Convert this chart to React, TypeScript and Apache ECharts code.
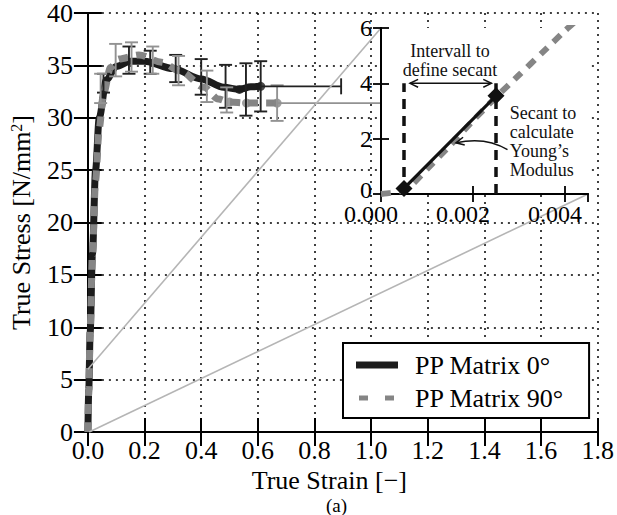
import React, { useEffect, useRef } from "react";
import * as echarts from "echarts";

const FONT = "Liberation Serif, serif";

// ---- main plot data ----
const strain0 = [0, 0.003, 0.008, 0.016, 0.027, 0.04, 0.065, 0.1, 0.15, 0.2, 0.3, 0.4, 0.48, 0.535, 0.575, 0.61];
const stress0 = [0, 4, 9.5, 17, 25, 30, 33.6, 34.9, 35.4, 35.4, 34.7, 33.7, 32.9, 32.7, 32.95, 33.0];
const strain90 = [0, 0.003, 0.008, 0.016, 0.027, 0.04, 0.055, 0.08, 0.11, 0.18, 0.26, 0.33, 0.41, 0.46, 0.5, 0.56, 0.668];
const stress90 = [0, 4, 10, 17, 24, 29, 32.3, 34.8, 35.6, 36.0, 35.3, 34.4, 32.9, 31.8, 31.5, 31.4, 31.4];
const markerIdx0 = [13, 15];
const markerIdx90 = [14, 15, 16];

// error bars (vertical)
const err0Strain = [0.055, 0.145, 0.22, 0.31, 0.4, 0.486, 0.558, 0.61];
const err0Mean = [33.3, 35.5, 35.3, 34.7, 33.9, 33.0, 32.7, 33.0];
const err0Dev = [0.9, 1.3, 1.1, 1.3, 1.7, 2.05, 2.5, 2.4];
const err90Strain = [0.045, 0.098, 0.154, 0.229, 0.32, 0.42, 0.49, 0.668];
const err90Mean = [32.8, 35.5, 35.8, 35.5, 34.5, 33.0, 31.7, 31.4];
const err90Dev = [1.4, 1.55, 1.4, 1.3, 1.4, 1.5, 1.2, 1.7];
// error bars (horizontal, end of curves)
const xErr0 = [0.61, 33.0, 0.284];
const xErr90 = [0.668, 31.4, 0.4];

// ---- inset data ----
const insetStrain = [0, 0.0002, 0.0004, 0.0006, 0.001, 0.0015, 0.002, 0.0025, 0.003, 0.0035, 0.004, 0.0042];
const insetStress = [0, 0.04, 0.1, 0.22, 0.9, 1.75, 2.65, 3.5, 4.3, 5.1, 5.9, 6.2];
const secantStrain = [0.0005, 0.0025];
const secantStress = [0.2, 3.55];
const intervalLevel = 4.0;
const intervalArrowStrain = [0.00063, 0.0024];
const curvedArrowTail = [0.00275, 1.6];
const curvedArrowHead = [0.00163, 1.85];
const label1Pos = [0.0015, 4.82];
const label2Pos = [0.0028, 1.9];
const insetXMax = 0.0045;
const insetYMax = 6;

const BLACK = "#1c1c1c";
const GRAY = "#858585";
const GRAY_ERR = "#929292";
const CAP = 6.5;

function errBarSeries(name: string, xs: number[], ys: number[], es: number[], color: string) {
  return {
    type: "custom",
    name,
    xAxisIndex: 0,
    yAxisIndex: 0,
    z: 4,
    clip: false,
    silent: true,
    data: xs.map((x, i) => [x, ys[i], es[i]]),
    encode: { x: 0, y: 1 },
    renderItem: (_p: any, api: any) => {
      const x = api.value(0), y = api.value(1), e = api.value(2);
      const t = api.coord([x, y + e]);
      const b = api.coord([x, y - e]);
      const st = { stroke: color, lineWidth: 1.9, fill: "none" };
      return {
        type: "group",
        children: [
          { type: "line", shape: { x1: t[0], y1: t[1], x2: b[0], y2: b[1] }, style: st },
          { type: "line", shape: { x1: t[0] - CAP, y1: t[1], x2: t[0] + CAP, y2: t[1] }, style: st },
          { type: "line", shape: { x1: b[0] - CAP, y1: b[1], x2: b[0] + CAP, y2: b[1] }, style: st },
        ],
      };
    },
  };
}

function xErrSeries(name: string, pt: number[], color: string, z: number) {
  return {
    type: "custom",
    name,
    xAxisIndex: 0,
    yAxisIndex: 0,
    z,
    clip: false,
    silent: true,
    data: [pt],
    encode: { x: 0, y: 1 },
    renderItem: (_p: any, api: any) => {
      const x = api.value(0), y = api.value(1), r = api.value(2);
      const a = api.coord([x, y]);
      const b = api.coord([x + r, y]);
      const st = { stroke: color, lineWidth: 1.9, fill: "none" };
      return {
        type: "group",
        children: [
          { type: "line", shape: { x1: a[0], y1: a[1], x2: b[0], y2: b[1] }, style: st },
          { type: "line", shape: { x1: b[0], y1: b[1] - 8, x2: b[0], y2: b[1] + 8 }, style: st },
        ],
      };
    },
  };
}

function arrowHead(tip: number[], from: number[], len: number, ang: number) {
  const dx = from[0] - tip[0], dy = from[1] - tip[1];
  const d = Math.hypot(dx, dy) || 1;
  const ux = dx / d, uy = dy / d;
  const rot = (a: number) => [
    tip[0] + len * (ux * Math.cos(a) - uy * Math.sin(a)),
    tip[1] + len * (ux * Math.sin(a) + uy * Math.cos(a)),
  ];
  return [rot(ang), tip, rot(-ang)];
}

const axisTextStyle = { fontFamily: FONT, color: "#000" };

const option: any = {
  animation: false,
  backgroundColor: "#fff",
  textStyle: { fontFamily: FONT },
  title: {
    text: "(a)",
    left: 326,
    top: 497,
    padding: 0,
    textStyle: { fontFamily: FONT, fontSize: 19, fontWeight: "normal", color: "#000", lineHeight: 17 },
  },
  legend: {
    orient: "vertical",
    left: 343,
    top: 343,
    z: 30,
    selectedMode: false,
    backgroundColor: "#fff",
    borderColor: "#000",
    borderWidth: 2,
    borderRadius: 0,
    padding: [9, 25, 7, 13],
    itemGap: 7,
    itemWidth: 42,
    itemHeight: 7,
    symbolKeepAspect: false,
    textStyle: { fontFamily: FONT, fontSize: 26, lineHeight: 26, color: "#000", padding: [0, 0, 0, 12] },
    data: [
      { name: "PP Matrix 0°", icon: "rect" },
      {
        name: "PP Matrix 90°",
        icon: "path://M0,0h0.01v7h-0.01zM3,1h9v5h-9zM29,1h9v5h-9zM41.99,0h0.01v7h-0.01z",
      },
    ],
  },
  grid: [
    { left: 84, top: 13, width: 519, height: 419, show: false },
    { left: 381, top: 28, width: 207, height: 166, show: true, backgroundColor: "#fff", borderWidth: 0, z: 10 },
  ],
  xAxis: [
    {
      type: "value", gridIndex: 0, min: 0, max: 1.8, interval: 0.2, position: "bottom",
      name: "True Strain [\u2212]", nameLocation: "middle", nameGap: 30,
      nameTextStyle: { ...axisTextStyle, fontSize: 26, lineHeight: 20, padding: [0, 27, 0, 0] },
      axisLine: { show: true, lineStyle: { color: "#000", width: 2 } },
      axisTick: { show: true, inside: true, length: 14, lineStyle: { color: "#000", width: 2 } },
      axisLabel: { ...axisTextStyle, fontSize: 26, lineHeight: 18, margin: 9, formatter: (v: number) => v.toFixed(1) },
      splitLine: { show: true, lineStyle: { color: "#000", width: 1.5, type: [2, 5] } },
    },
    {
      type: "value", gridIndex: 0, min: 0, max: 1.8, interval: 0.2, position: "top",
      axisLine: { show: true, lineStyle: { color: "#000", width: 2 } },
      axisTick: { show: true, inside: true, length: 14, lineStyle: { color: "#000", width: 2 } },
      axisLabel: { show: false },
      splitLine: { show: false },
    },
    {
      type: "value", gridIndex: 1, min: 0, max: insetXMax, interval: 0.002, position: "bottom", z: 11,
      axisLine: { show: true, lineStyle: { color: "#000", width: 2 } },
      axisTick: { show: true, inside: true, length: 8, lineStyle: { color: "#000", width: 1.8 } },
      axisLabel: {
        ...axisTextStyle, fontSize: 24, lineHeight: 20, margin: 10, showMaxLabel: false,
        padding: [0, 20, 0, 0], formatter: (v: number) => v.toFixed(3),
      },
      splitLine: { show: false },
    },
    {
      type: "value", gridIndex: 1, min: 0, max: insetXMax, interval: 0.002, position: "top", z: 11,
      axisLine: { show: true, lineStyle: { color: "#000", width: 2 } },
      axisTick: { show: true, inside: true, length: 8, lineStyle: { color: "#000", width: 1.8 } },
      axisLabel: { show: false },
      splitLine: { show: false },
    },
  ],
  yAxis: [
    {
      type: "value", gridIndex: 0, min: 0, max: 40, interval: 5, position: "left",
      name: "{a|True Stress [N/mm}{s|2}{a|]}", nameLocation: "middle", nameGap: 48,
      nameTextStyle: {
        ...axisTextStyle,
        rich: {
          a: { fontFamily: FONT, fontSize: 26, lineHeight: 26, color: "#000" },
          s: { fontFamily: FONT, fontSize: 16, lineHeight: 26, color: "#000", verticalAlign: "top", padding: [0, 0, 12, 0] },
        },
      },
      axisLine: { show: true, lineStyle: { color: "#000", width: 2 } },
      axisTick: { show: true, inside: true, length: 14, lineStyle: { color: "#000", width: 2 } },
      axisLabel: { ...axisTextStyle, fontSize: 26, lineHeight: 18, margin: 15 },
      splitLine: { show: true, lineStyle: { color: "#000", width: 1.5, type: [2, 5] } },
    },
    {
      type: "value", gridIndex: 0, min: 0, max: 40, interval: 5, position: "right",
      axisLine: { show: true, lineStyle: { color: "#000", width: 2 } },
      axisTick: { show: true, inside: true, length: 14, lineStyle: { color: "#000", width: 2 } },
      axisLabel: { show: false },
      splitLine: { show: false },
    },
    {
      type: "value", gridIndex: 1, min: 0, max: insetYMax, interval: 2, position: "left", z: 11,
      axisLine: { show: true, lineStyle: { color: "#000", width: 2 } },
      axisTick: { show: true, inside: true, length: 8, lineStyle: { color: "#000", width: 1.8 } },
      axisLabel: {
        ...axisTextStyle, fontSize: 24, lineHeight: 16, margin: 9,
        formatter: (v: number) => (v === 0 ? "{z|0}" : String(v)),
        rich: { z: { fontFamily: FONT, fontSize: 24, lineHeight: 16, color: "#000", padding: [0, 0, 8, 0] } },
      },
      splitLine: { show: false },
    },
    {
      type: "value", gridIndex: 1, min: 0, max: insetYMax, interval: 2, position: "right", z: 11,
      axisLine: { show: true, lineStyle: { color: "#000", width: 2 } },
      axisTick: { show: true, inside: true, length: 8, lineStyle: { color: "#000", width: 1.8 } },
      axisLabel: { show: false },
      splitLine: { show: false },
    },
  ],
  series: [
    {
      type: "line", name: "PP Matrix 0°", xAxisIndex: 0, yAxisIndex: 0, z: 2,
      data: strain0.map((x, i) => [x, stress0[i]]),
      smooth: 0.3, smoothMonotone: "x", symbol: "none", silent: true,
      color: BLACK,
      lineStyle: { color: BLACK, width: 7, cap: "butt", join: "round" },
    },
    {
      type: "line", name: "PP Matrix 90°", xAxisIndex: 0, yAxisIndex: 0, z: 2,
      data: strain90.map((x, i) => [x, stress90[i]]),
      smooth: 0.3, smoothMonotone: "x", symbol: "none", silent: true,
      color: GRAY,
      lineStyle: { color: GRAY, width: 7, type: [10, 8], cap: "butt" },
    },
    {
      type: "scatter", name: "m0", xAxisIndex: 0, yAxisIndex: 0, z: 3, silent: true,
      symbol: "circle", symbolSize: 9, itemStyle: { color: BLACK },
      data: markerIdx0.map((i) => [strain0[i], stress0[i]]),
    },
    {
      type: "scatter", name: "m90", xAxisIndex: 0, yAxisIndex: 0, z: 3, silent: true,
      symbol: "circle", symbolSize: 9, itemStyle: { color: GRAY },
      data: markerIdx90.map((i) => [strain90[i], stress90[i]]),
    },
    errBarSeries("e0", err0Strain, err0Mean, err0Dev, "#222"),
    errBarSeries("e90", err90Strain, err90Mean, err90Dev, GRAY_ERR),
    xErrSeries("x0", xErr0, "#222", 4),
    xErrSeries("x90", xErr90, GRAY_ERR, 4),
    // ---- inset ----
    {
      type: "line", name: "inset90", xAxisIndex: 2, yAxisIndex: 2, z: 12,
      data: insetStrain.map((x, i) => [x, insetStress[i]]),
      smooth: 0.2, symbol: "none", silent: true, clip: true,
      lineStyle: { color: GRAY, width: 6, type: [10, 8], cap: "butt" },
    },
    {
      type: "custom", name: "annot", xAxisIndex: 2, yAxisIndex: 2, z: 13, clip: false, silent: true,
      data: [[0, 0]],
      encode: { x: 0, y: 1 },
      renderItem: (_p: any, api: any) => {
        const c = (x: number, y: number) => api.coord([x, y]);
        const children: any[] = [];
        secantStrain.forEach((x) => {
          const a = c(x, 0), b = c(x, intervalLevel);
          children.push({
            type: "line", shape: { x1: a[0], y1: a[1], x2: b[0], y2: b[1] },
            style: { stroke: "#111", lineWidth: 3.5, lineDash: [10, 7] },
          });
        });
        const l = c(intervalArrowStrain[0], intervalLevel);
        const r = c(intervalArrowStrain[1], intervalLevel);
        const ast = { stroke: "#111", lineWidth: 1.5, fill: "none" };
        children.push({ type: "line", shape: { x1: l[0], y1: l[1], x2: r[0], y2: r[1] }, style: ast });
        children.push({ type: "polyline", shape: { points: arrowHead(l, r, 9, 0.45) }, style: ast });
        children.push({ type: "polyline", shape: { points: arrowHead(r, l, 9, 0.45) }, style: ast });
        const t = c(curvedArrowTail[0], curvedArrowTail[1]);
        const h = c(curvedArrowHead[0], curvedArrowHead[1]);
        const mx = (t[0] + h[0]) / 2, my = (t[1] + h[1]) / 2;
        const cp = [mx + 4, my - 10];
        children.push({
          type: "bezierCurve",
          shape: { x1: t[0], y1: t[1], x2: h[0], y2: h[1], cpx1: cp[0], cpy1: cp[1] },
          style: ast,
        });
        children.push({ type: "polyline", shape: { points: arrowHead(h, cp, 9, 0.45) }, style: ast });
        const p1 = c(label1Pos[0], label1Pos[1]);
        children.push({
          type: "text", x: p1[0], y: p1[1],
          style: {
            text: "Intervall to\ndefine secant", fontFamily: FONT, fontSize: 18, lineHeight: 18.5,
            fill: "#111", align: "center", verticalAlign: "middle",
          },
        });
        const p2 = c(label2Pos[0], label2Pos[1]);
        children.push({
          type: "text", x: p2[0], y: p2[1],
          style: {
            text: "Secant to\ncalculate\nYoung\u2019s\nModulus", fontFamily: FONT, fontSize: 18, lineHeight: 19,
            fill: "#111", align: "left", verticalAlign: "middle",
          },
        });
        return { type: "group", children };
      },
    },
    {
      type: "line", name: "secant", xAxisIndex: 2, yAxisIndex: 2, z: 14, silent: true,
      data: secantStrain.map((x, i) => [x, secantStress[i]]),
      symbol: "diamond", symbolSize: 17, showSymbol: true,
      itemStyle: { color: "#111" },
      lineStyle: { color: "#111", width: 3.2 },
    },
  ],
};

export default function App() {
  const ref = useRef<HTMLDivElement>(null);
  useEffect(() => {
    const chart = echarts.init(ref.current!, null, { renderer: "svg" });
    chart.setOption(option);
    const a1 = chart.convertToPixel({ xAxisIndex: 0, yAxisIndex: 0 }, [0, insetYMax]) as number[];
    const a2 = chart.convertToPixel({ xAxisIndex: 2, yAxisIndex: 2 }, [0, insetYMax]) as number[];
    const b1 = chart.convertToPixel({ xAxisIndex: 0, yAxisIndex: 0 }, [insetXMax, 0]) as number[];
    const b2 = chart.convertToPixel({ xAxisIndex: 2, yAxisIndex: 2 }, [insetXMax, 0]) as number[];
    const st = { stroke: "#b5b5b5", lineWidth: 1.6 };
    chart.setOption({
      graphic: [
        { type: "line", z: 5, silent: true, shape: { x1: a1[0], y1: a1[1], x2: a2[0], y2: a2[1] }, style: st },
        { type: "line", z: 5, silent: true, shape: { x1: b1[0], y1: b1[1], x2: b2[0], y2: b2[1] }, style: st },
      ],
    });
    return () => chart.dispose();
  }, []);
  return <div ref={ref} style={{ position: "absolute", left: 0, top: 0, width: 617, height: 515 }} />;
}
